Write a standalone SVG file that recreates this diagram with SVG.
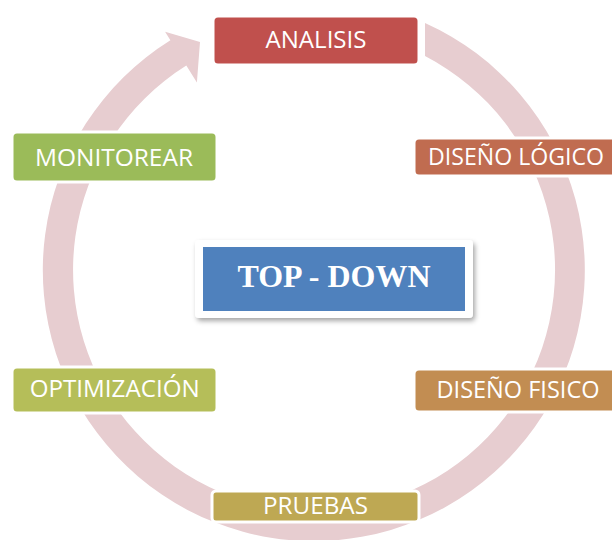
<svg xmlns="http://www.w3.org/2000/svg" width="612" height="540" viewBox="0 0 612 540">
  <defs>
    <style>
      .node { stroke: #ffffff; stroke-width: 3; }
      .label { font-family: "Open Sans", "Noto Sans", sans-serif; font-size: 23.5px; fill: #ffffff; text-anchor: middle; }
      .title { font-family: "Liberation Serif", "Times New Roman", serif; font-size: 32px; font-weight: bold; fill: #ffffff; text-anchor: middle; }
      .ring { fill: #E7CDD0; }
    </style>
    <filter id="shadow" x="-10%" y="-20%" width="125%" height="150%">
      <feDropShadow dx="2" dy="3" stdDeviation="2.5" flood-color="#000000" flood-opacity="0.35"/>
    </filter>
  </defs>

  <rect width="612" height="540" fill="#ffffff"/>

  <!-- circular flow arrow, clockwise, ending just left of the first step -->
  <g id="connectors">
    <path class="ring" d="M 425,23 A 271 271 0 1 1 170.4,40.2 L 165.1,31.7 L 200,42 L 196.9,82.6 L 186.3,65.6 A 241 241 0 1 0 425,56 Z"/>
  </g>

  <g id="analisis">
    <rect class="node" x="213" y="16" width="206" height="49" rx="5" fill="#C0504D"/>
    <text class="label" x="316" y="48" textLength="101" lengthAdjust="spacingAndGlyphs">ANALISIS</text>
  </g>

  <g id="diseno-logico">
    <rect class="node" x="414" y="138" width="204" height="38" rx="5" fill="#C06C50"/>
    <text class="label" x="516" y="165" textLength="176" lengthAdjust="spacingAndGlyphs">DISEÑO LÓGICO</text>
  </g>

  <g id="diseno-fisico">
    <rect class="node" x="414" y="369" width="204" height="43" rx="5" fill="#C28D52"/>
    <text class="label" x="518" y="398" textLength="163" lengthAdjust="spacingAndGlyphs">DISEÑO FISICO</text>
  </g>

  <g id="pruebas">
    <rect class="node" x="212" y="491" width="207" height="31" rx="4" fill="#BEA853"/>
    <text class="label" x="315.5" y="514" textLength="105" lengthAdjust="spacingAndGlyphs">PRUEBAS</text>
  </g>

  <g id="optimizacion">
    <rect class="node" x="12" y="367" width="205" height="46" rx="5" fill="#B5BE59"/>
    <text class="label" x="114.7" y="397" textLength="170" lengthAdjust="spacingAndGlyphs">OPTIMIZACIÓN</text>
  </g>

  <g id="monitorear">
    <rect class="node" x="12" y="132" width="205" height="50" rx="5" fill="#9BBB59"/>
    <text class="label" x="114" y="166" textLength="158" lengthAdjust="spacingAndGlyphs">MONITOREAR</text>
  </g>

  <g id="top-down">
    <rect x="195" y="240" width="278" height="78" rx="4" fill="#ffffff" filter="url(#shadow)"/>
    <rect x="203" y="247" width="262" height="64" fill="#4F81BD"/>
    <text class="title" x="334" y="287" textLength="193" lengthAdjust="spacingAndGlyphs">TOP - DOWN</text>
  </g>
</svg>
